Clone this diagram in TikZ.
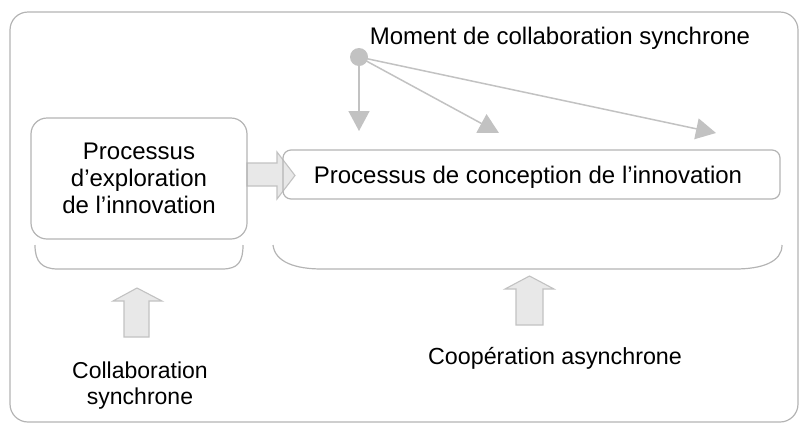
\documentclass[tikz,border=0pt]{standalone}
\usepackage{fontspec}
\setmainfont{Liberation Sans}
\usetikzlibrary{arrows.meta}
\definecolor{lineg}{HTML}{B4B4B4}
\definecolor{arrg}{HTML}{C2C2C2}
\definecolor{fillg}{HTML}{E8E8E8}
\tikzset{
  boxst/.style={draw=lineg, line width=1.2pt, rounded corners=#1, inner sep=0pt},
  lbl/.style={inner sep=0pt, align=center, text=black},
  blockarr/.style={draw=arrg, fill=fillg, line width=1.1pt, line join=miter},
  brace/.style={draw=lineg, line width=1.2pt},
  sync/.style={draw=arrg, line width=1.5pt, -{Triangle[length=20pt,width=21pt]}},
}
\begin{document}
\begin{tikzpicture}[x=1pt,y=-1pt]
\useasboundingbox (0,0) rectangle (799,424);
% frame
\draw[lineg, line width=1.2pt, rounded corners=18pt] (10,12) rectangle (798,422);
% block arrow from exploration to conception
\filldraw[blockarr] (247,163) -- (277,163) -- (277,152) -- (295,175.5) -- (277,199) -- (277,186) -- (247,186) -- cycle;
% boxes
\node[boxst=16pt, minimum width=216pt, minimum height=121pt] (explo) at (139,178.5) {};
\node[lbl, font=\fontsize{24}{27}\selectfont] (explot) at (explo.center) {Processus\\d’exploration\\de l’innovation};
\node[boxst=8pt, minimum width=497pt, minimum height=49pt] (concep) at (531.5,174.5) {};
\node[lbl, font=\fontsize{24}{27}\selectfont] (concept) at (528,177) {Processus de conception de l’innovation};
% braces
\draw[brace] (35,245) .. controls (35,262) and (42,269) .. (58,269) -- (222,269) .. controls (238,269) and (243,262) .. (243,245);
\draw[brace] (273,245) .. controls (275,262) and (295,269) .. (322,269) -- (735,269) .. controls (762,269) and (782,262) .. (782,245);
% up arrows
\filldraw[blockarr] (124,337) -- (124,301) -- (113,301) -- (137,288) -- (162,301) -- (149,301) -- (149,337) -- cycle;
\filldraw[blockarr] (516,325) -- (516,289) -- (505,289) -- (529.5,276) -- (554,289) -- (543,289) -- (543,325) -- cycle;
% labels
\node[lbl, font=\fontsize{24}{27}\selectfont] (moment) at (560,38) {Moment de collaboration synchrone};
\node[lbl, font=\fontsize{23.3}{27}\selectfont] (coop) at (555,358) {Coopération asynchrone};
\node[lbl, font=\fontsize{23}{26}\selectfont] (collab) at (140,386) {Collaboration\\synchrone};
% synchronous moment dot and arrows
\node[circle, fill=arrg, minimum size=18pt, inner sep=0pt] (dot) at (359,57) {};
\coordinate (t1) at (359,131);
\coordinate (t2) at (499,133);
\coordinate (t3) at (716,133);
\draw[sync] (dot.center) -- (t1);
\draw[sync] (dot.center) -- (t2);
\draw[sync] (dot.center) -- (t3);
\end{tikzpicture}
\end{document}
